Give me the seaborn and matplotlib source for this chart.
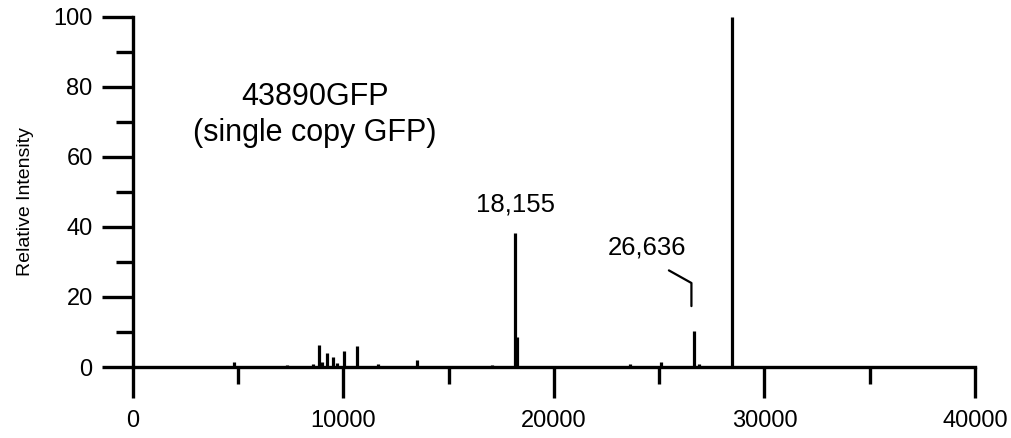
import seaborn as sns
import matplotlib.pyplot as plt
from matplotlib.ticker import MultipleLocator
import pandas as pd

# deconvoluted mass spectrum peaks (mass, relative intensity)
mass = [1200, 2600, 3900, 4800, 5600, 6500, 7300, 8000, 8550, 8830, 9000, 9200, 9490, 9680,
        10010, 10630, 11200, 11630, 12400, 13490, 14300, 15600, 16400, 17070, 18155, 18240,
        19500, 21000, 22300, 23600, 24300, 25080, 25800, 26636, 26900, 28440, 29500]
intensity = [0.3, 0.3, 0.3, 1.3, 0.3, 0.3, 0.7, 0.4, 1.0, 6.3, 1.5, 4.1, 2.9, 1.2,
             4.6, 6.0, 0.4, 0.9, 0.4, 2.0, 0.4, 0.3, 0.3, 0.7, 38.2, 8.5,
             0.3, 0.3, 0.3, 0.8, 0.3, 1.5, 0.4, 10.3, 0.8, 100, 0.3]
df = pd.DataFrame({'mass': mass, 'intensity': intensity})

sns.set_style('ticks')
plt.rcParams['font.family'] = ['Liberation Sans', 'DejaVu Sans']
plt.rcParams['text.color'] = 'black'
plt.rcParams['axes.labelcolor'] = 'black'
plt.rcParams['xtick.color'] = 'black'
plt.rcParams['ytick.color'] = 'black'

fig = plt.figure(figsize=(10.12, 4.38), dpi=100)
ax = fig.add_axes([0.1314, 0.1621, 0.8320, 0.7991])

ax.vlines(df['mass'], 0, df['intensity'], color='black', linewidth=2.3)

ax.set_xlim(0, 40000)
ax.set_ylim(0, 100)
sns.despine(ax=ax)
for s in ['left', 'bottom']:
    ax.spines[s].set_linewidth(2.4)
    ax.spines[s].set_color('black')

ax.xaxis.set_major_locator(MultipleLocator(10000))
ax.xaxis.set_minor_locator(MultipleLocator(5000))
ax.yaxis.set_major_locator(MultipleLocator(20))
ax.yaxis.set_minor_locator(MultipleLocator(10))
ax.tick_params(which='major', length=22, width=2.4, labelsize=17, pad=7)
ax.tick_params(which='minor', length=12, width=2.4)
ax.tick_params(axis='x', which='major', pad=9)

ax.set_ylabel('Relative Intensity', fontsize=14)
ax.yaxis.set_label_coords(-0.117, 0.472)

ax.text(8650, 72, '43890GFP\n(single copy GFP)', fontsize=22, ha='center', va='center',
        linespacing=1.25)
ax.text(18150, 46.3, '18,155', fontsize=18.5, ha='center', va='center')
ax.text(24420, 34, '26,636', fontsize=18.5, ha='center', va='center')
ax.plot([25460, 26530, 26530], [27.6, 24.0, 17.4], color='black', linewidth=1.6,
        clip_on=False)

fig.savefig('out.png', dpi=100)
